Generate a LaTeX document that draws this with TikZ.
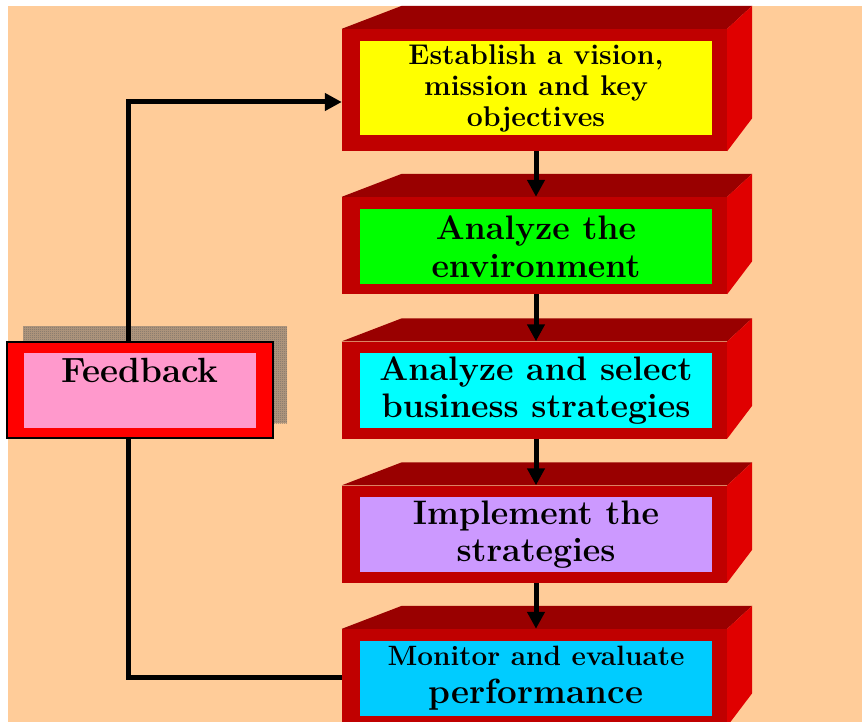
\documentclass[tikz,border=0pt]{standalone}
\usepackage{fontspec}
\usetikzlibrary{calc,arrows.meta,patterns.meta}

\definecolor{peach}{HTML}{FFCC99}
\definecolor{frontred}{HTML}{C00000}
\definecolor{topred}{HTML}{990000}
\definecolor{sidered}{HTML}{E00000}
\definecolor{fbred}{HTML}{FF0000}
\definecolor{fbpink}{HTML}{FF99CC}
\definecolor{shadowgray}{HTML}{606060}
\definecolor{stepyellow}{HTML}{FFFF00}
\definecolor{stepgreen}{HTML}{00FF00}
\definecolor{aqua}{HTML}{00FFFF}
\definecolor{lavender}{HTML}{CC99FF}
\definecolor{skyblue}{HTML}{00CCFF}

\tikzdeclarepattern{
  name=finechecker,
  type=uncolored,
  bottom left={(0pt,0pt)},
  top right={(2pt,2pt)},
  tile size={(2pt,2pt)},
  code={
    \fill (0pt,0pt) rectangle (1pt,1pt);
    \fill (1pt,1pt) rectangle (2pt,2pt);
  }
}

\tikzset{
  stage/.style={fill=frontred,minimum width=385pt,minimum height=97pt,inner sep=0pt},
  stagetext/.style={fill=#1,minimum width=352pt,minimum height=75pt,inner sep=0pt,
    align=center,font=\bfseries\fontsize{34}{37.5}\selectfont},
  flow/.style={line width=5pt},
  flowtip/.style={-{Triangle[length=17pt,width=17pt]}}
}

\begin{document}
\begin{tikzpicture}[x=1pt,y=-1pt]
\useasboundingbox (0,0) rectangle (862,722);
\fill[white] (0,0) rectangle (862,722);
\fill[peach] (8,6) rectangle (862,722);

% the five stages, front faces
\node[stage,minimum height=122pt] (vision) at (534.5,90) {};
\node[stage] (environment) at (534.5,245.5) {};
\node[stage] (strategies) at (534.5,390) {};
\node[stage] (implement) at (534.5,534) {};
\node[stage] (monitor) at (534.5,677.5) {};

% top and side faces
\foreach \s in {vision,environment,strategies,implement,monitor}{
  \fill[topred] (\s.north west) -- ++(60,-23)
    -- ($(\s.north east)+(25,-23)$) -- (\s.north east) -- cycle;
  \fill[sidered] (\s.north east) -- ++(25,-23)
    -- ($(\s.south east)+(25,-33)$) -- (\s.south east) -- cycle;
}

\node[stagetext=stepyellow,minimum height=94pt,
  font=\bfseries\fontsize{28.5}{31}\selectfont] (visiontext) at (536,88)
  {Establish a vision,\\mission and key\\objectives};
\node[stagetext=stepgreen] (environmenttext) at (536,246.5)
  {Analyze the\\environment};
\node[stagetext=aqua] (strategiestext) at (536,390.5)
  {Analyze and select\\business strategies};
\node[stagetext=lavender] (implementtext) at (536,534.5)
  {Implement the\\strategies};
\node[stagetext=skyblue,font=\bfseries\fontsize{35}{38}\selectfont] (monitortext) at (536,678.5)
  {{\fontsize{28}{31}\selectfont Monitor and evaluate}\\performance};

\foreach \a/\b in {vision/environment,environment/strategies,strategies/implement,implement/monitor}
  \draw[flow,flowtip] ([xshift=1.5pt]\a.south) -- ([xshift=1.5pt]\b.north);

% feedback loop
\fill[shadowgray!45!peach] (23,326) rectangle (287,423);
\fill[pattern={finechecker},pattern color=shadowgray] (23,326) rectangle (287,423);
\node[fill=fbred,draw=black,line width=1.5pt,minimum width=266pt,minimum height=96pt,
  inner sep=0pt] (feedback) at (140,390) {};
\draw[flow,flowtip] ([xshift=-12pt]feedback.north) |- ([yshift=-12pt]vision.west);
\draw[flow] ([xshift=-12pt]feedback.south) |- (monitor.west);
\node[fill=fbpink,minimum width=232pt,inner sep=0pt,text height=29pt,text depth=46pt,
  font=\bfseries\fontsize{35}{38}\selectfont] (feedbacktext) at (140,390.5) {Feedback};
\end{tikzpicture}
\end{document}
